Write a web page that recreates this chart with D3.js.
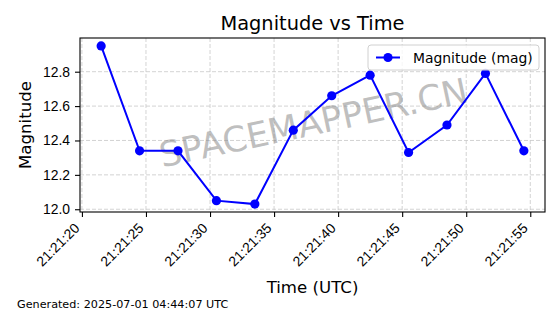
<!DOCTYPE html>
<html>
<head>
<meta charset="utf-8">
<script src="https://cdn.jsdelivr.net/npm/d3@7"></script>
<style>
  body { margin: 0; background: #fff; }
  svg { display: block; font-family: "DejaVu Sans", sans-serif; }
</style>
</head>
<body>
<svg id="chart" width="560" height="314"></svg>
<script>
// data
var times = ["21:21:21.5", "21:21:24.5", "21:21:27.5", "21:21:30.5", "21:21:33.5", "21:21:36.5",
             "21:21:39.5", "21:21:42.5", "21:21:45.5", "21:21:48.5", "21:21:51.5", "21:21:54.5"];
var magnitudes = [12.95, 12.34, 12.34, 12.05, 12.03, 12.46, 12.66, 12.78, 12.33, 12.49, 12.79, 12.34];
var yTicks = [12.0, 12.2, 12.4, 12.6, 12.8];
var DAY = "2025-06-30T";

var LINE_COLOR = "#0000ff";
var GRID_COLOR = "#c8c8c8";
var TICK_FONT = 13.9;

var margin = {left: 80, right: 15, top: 38, bottom: 102};
var width = 560 - margin.left - margin.right
  , height = 314 - margin.top - margin.bottom;

var parseT = function(s) {
  return new Date(DAY + s + "Z");
}

var points = times.map(function(t, i) {
  return {t: parseT(t), v: magnitudes[i]};
});

// matplotlib style 5% padding on both axes
var tExt = d3.extent(points, function(d) { return d.t; });
var tPad = (tExt[1] - tExt[0]) * 0.05;
var vExt = d3.extent(points, function(d) { return d.v; });
var vPad = (vExt[1] - vExt[0]) * 0.05;

var x = d3.scaleUtc()
  .domain([new Date(+tExt[0] - tPad), new Date(+tExt[1] + tPad)])
  .range([0, width]);
var y = d3.scaleLinear()
  .domain([vExt[0] - vPad, vExt[1] + vPad])
  .range([height, 0]);

var svg = d3.select("#chart");
var g = svg.append("g").attr("transform", "translate(" + margin.left + "," + margin.top + ")");

var xTicks = x.ticks(d3.utcSecond.every(5));
var fmt = d3.utcFormat("%H:%M:%S");

// grid
g.append("g").selectAll("line").data(xTicks).enter().append("line")
  .attr("x1", function(d) { return x(d); }).attr("x2", function(d) { return x(d); })
  .attr("y1", 0).attr("y2", height)
  .attr("stroke", GRID_COLOR).attr("stroke-width", 0.8).attr("stroke-dasharray", "4,2");
g.append("g").selectAll("line").data(yTicks).enter().append("line")
  .attr("x1", 0).attr("x2", width)
  .attr("y1", function(d) { return y(d); }).attr("y2", function(d) { return y(d); })
  .attr("stroke", GRID_COLOR).attr("stroke-width", 0.8).attr("stroke-dasharray", "4,2");

// watermark
g.append("text")
  .attr("transform", "translate(" + (width / 2 + 1) + "," + (height / 2 - 2) + ") rotate(-12)")
  .attr("text-anchor", "middle")
  .attr("dominant-baseline", "central")
  .attr("font-size", 35)
  .attr("fill", "#808080")
  .attr("fill-opacity", 0.5)
  .text("SPACEMAPPER.CN");

// series
var line = d3.line()
  .x(function(d) { return x(d.t); })
  .y(function(d) { return y(d.v); });
g.append("path").datum(points)
  .attr("d", line)
  .attr("fill", "none")
  .attr("stroke", LINE_COLOR)
  .attr("stroke-width", 2);
g.append("g").selectAll("circle").data(points).enter().append("circle")
  .attr("cx", function(d) { return x(d.t); })
  .attr("cy", function(d) { return y(d.v); })
  .attr("r", 4.6)
  .attr("fill", LINE_COLOR);

// frame
g.append("rect")
  .attr("width", width).attr("height", height)
  .attr("fill", "none").attr("stroke", "#000").attr("stroke-width", 1.1);

// x axis
var xAxis = g.append("g")
  .attr("transform", "translate(0," + height + ")")
  .call(d3.axisBottom(x).tickValues(xTicks).tickFormat(fmt).tickSize(5).tickPadding(0));
xAxis.select(".domain").remove();
xAxis.selectAll("line").attr("stroke-width", 1.1);
xAxis.selectAll("text")
  .attr("font-size", TICK_FONT)
  .attr("fill", "#000")
  .attr("text-anchor", "end")
  .attr("dy", null)
  .attr("y", null)
  .attr("transform", "translate(-2,17) rotate(-45)");

// y axis
var yAxis = g.append("g")
  .call(d3.axisLeft(y).tickValues(yTicks).tickFormat(d3.format(".1f")).tickSize(5).tickPadding(5));
yAxis.select(".domain").remove();
yAxis.selectAll("line").attr("stroke-width", 1.1);
yAxis.selectAll("text").attr("font-size", TICK_FONT).attr("fill", "#000");

// labels
svg.append("text")
  .attr("x", margin.left + width / 2).attr("y", 30)
  .attr("text-anchor", "middle").attr("font-size", 19.4)
  .text("Magnitude vs Time");
svg.append("text")
  .attr("x", margin.left + width / 2).attr("y", 293)
  .attr("text-anchor", "middle").attr("font-size", 16.6)
  .text("Time (UTC)");
svg.append("text")
  .attr("transform", "translate(31," + (margin.top + height / 2) + ") rotate(-90)")
  .attr("text-anchor", "middle").attr("font-size", 16.6)
  .text("Magnitude");
svg.append("text")
  .attr("x", 17).attr("y", 308)
  .attr("font-size", 11.2)
  .text("Generated: 2025-07-01 04:44:07 UTC");

// legend
var lg = g.append("g").attr("transform", "translate(" + (width - 177) + ",7)");
lg.append("rect")
  .attr("width", 171).attr("height", 25).attr("rx", 3)
  .attr("fill", "#fff").attr("fill-opacity", 0.8)
  .attr("stroke", "#d0d0d0").attr("stroke-width", 1);
lg.append("line")
  .attr("x1", 8).attr("x2", 32).attr("y1", 12.5).attr("y2", 12.5)
  .attr("stroke", LINE_COLOR).attr("stroke-width", 2);
lg.append("circle").attr("cx", 20).attr("cy", 12.5).attr("r", 4.6).attr("fill", LINE_COLOR);
lg.append("text")
  .attr("x", 45).attr("y", 17.5)
  .attr("font-size", 13.9)
  .text("Magnitude (mag)");
</script>
</body>
</html>
